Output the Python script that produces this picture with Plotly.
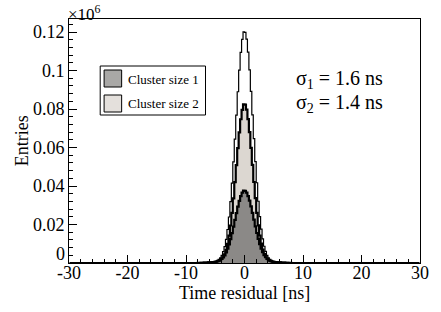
import numpy as np
import plotly.graph_objects as go

# ---- data (entries per 0.25 ns bin, in units of 1e6) ----
bin_width = 0.25
x_min, x_max = -30.0, 30.0
core_first_center = -7.875   # first bin center of the listed values

cluster1 = [0.0001, 0.0001, 0.0001, 0.0001, 0.0002, 0.0002, 0.0002, 0.0003, 0.0003, 0.0004, 0.0004, 0.0005,
            0.0006, 0.0008, 0.0011, 0.0015, 0.0021, 0.0029, 0.0040, 0.0055, 0.0074, 0.0097, 0.0124, 0.0155,
            0.0189, 0.0224, 0.0259, 0.0293, 0.0323, 0.0348, 0.0366, 0.0376,
            0.0375, 0.0366, 0.0348, 0.0324, 0.0294, 0.0260, 0.0225, 0.0190, 0.0156, 0.0125, 0.0098, 0.0075,
            0.0056, 0.0041, 0.0030, 0.0021, 0.0015, 0.0011, 0.0008, 0.0006, 0.0005, 0.0004, 0.0004, 0.0003,
            0.0003, 0.0002, 0.0002, 0.0002, 0.0001, 0.0001, 0.0001, 0.0001]

cluster2 = [0.0000, 0.0000, 0.0001, 0.0001, 0.0001, 0.0001, 0.0001, 0.0002, 0.0002, 0.0002, 0.0003, 0.0003,
            0.0004, 0.0006, 0.0008, 0.0012, 0.0019, 0.0030, 0.0045, 0.0068, 0.0100, 0.0142, 0.0195, 0.0260,
            0.0336, 0.0420, 0.0509, 0.0597, 0.0679, 0.0747, 0.0796, 0.0825,
            0.0823, 0.0797, 0.0748, 0.0680, 0.0598, 0.0510, 0.0421, 0.0337, 0.0261, 0.0196, 0.0143, 0.0101,
            0.0069, 0.0046, 0.0030, 0.0019, 0.0012, 0.0008, 0.0006, 0.0004, 0.0003, 0.0003, 0.0002, 0.0002,
            0.0002, 0.0001, 0.0001, 0.0001, 0.0001, 0.0001, 0.0000, 0.0000]

total = [0.0001, 0.0001, 0.0002, 0.0002, 0.0003, 0.0003, 0.0003, 0.0005, 0.0005, 0.0006, 0.0007, 0.0008,
         0.0010, 0.0014, 0.0019, 0.0027, 0.0040, 0.0059, 0.0085, 0.0123, 0.0174, 0.0239, 0.0319, 0.0415,
         0.0525, 0.0644, 0.0768, 0.0890, 0.1002, 0.1095, 0.1162, 0.1201,
         0.1198, 0.1163, 0.1096, 0.1004, 0.0892, 0.0770, 0.0646, 0.0527, 0.0417, 0.0321, 0.0241, 0.0176,
         0.0125, 0.0087, 0.0060, 0.0040, 0.0027, 0.0019, 0.0014, 0.0010, 0.0008, 0.0007, 0.0006, 0.0005,
         0.0005, 0.0003, 0.0003, 0.0003, 0.0002, 0.0002, 0.0001, 0.0001]

legend_labels = ["Cluster size 1", "Cluster size 2"]
sigma_texts = ["σ<sub>1</sub> = 1.6 ns", "σ<sub>2</sub> = 1.4 ns"]
y_ticks = [0, 0.02, 0.04, 0.06, 0.08, 0.1, 0.12]
y_ticktext = ["0", "0.02", "0.04", "0.06", "0.08", "0.1", "0.12"]
x_ticks = [-30, -20, -10, 0, 10, 20, 30]
x_ticktext = ["-30", "-20", "-10", "0", "10", "20", "30"]

# ---- build full histogram grid ----
centers = np.arange(x_min + bin_width / 2, x_max, bin_width)
i0 = int(round((core_first_center - centers[0]) / bin_width))


def full(values):
    arr = np.zeros(len(centers))
    arr[i0:i0 + len(values)] = values
    return arr


FONT = "Liberation Serif"
DARK = "#8b8987"
LIGHT = "#dcd7d1"

fig = go.Figure()
fig.add_trace(go.Scatter(x=centers, y=full(total), mode="lines", line_shape="hvh",
                         line=dict(color="black", width=1.2), showlegend=False, hoverinfo="skip"))
fig.add_trace(go.Scatter(x=centers, y=full(cluster2), mode="lines", line_shape="hvh", fill="tozeroy",
                         fillcolor=LIGHT, line=dict(color="black", width=2.2), showlegend=False,
                         hoverinfo="skip"))
fig.add_trace(go.Scatter(x=centers, y=full(cluster1), mode="lines", line_shape="hvh", fill="tozeroy",
                         fillcolor=DARK, line=dict(color="black", width=2.2), showlegend=False,
                         hoverinfo="skip"))

axis_common = dict(showline=True, linecolor="black", linewidth=1, mirror=True, ticks="inside",
                   tickcolor="black", tickwidth=1, ticklen=8, showgrid=False, zeroline=False,
                   tickfont=dict(family=FONT, size=18, color="black"))

fig.update_xaxes(range=[x_min, x_max], tickvals=x_ticks, ticktext=x_ticktext, ticklabelstandoff=-7,
                 minor=dict(dtick=2, ticks="inside", ticklen=4, tickcolor="black", tickwidth=1),
                 **axis_common)
# the "0" label of the y axis is drawn as an annotation, raised like in the reference
fig.update_yaxes(range=[0, 0.1268], tickvals=y_ticks, ticktext=[""] + y_ticktext[1:],
                 minor=dict(dtick=0.004, ticks="inside", ticklen=4, tickcolor="black", tickwidth=1),
                 **axis_common)

# pixel -> paper helpers for the 360x244 plot area (left 69, top 19)
def px(x):
    return (x - 69) / 360.0


def py(y):
    return (263 - y) / 244.0


shapes = [
    dict(type="rect", xref="paper", yref="paper", x0=px(101), x1=px(209), y0=py(115), y1=py(66),
         line=dict(color="black", width=1), fillcolor="white", layer="above"),
    dict(type="rect", xref="paper", yref="paper", x0=px(105), x1=px(123), y0=py(87), y1=py(70),
         line=dict(color="black", width=1), fillcolor="#a9a8a6", layer="above"),
    dict(type="rect", xref="paper", yref="paper", x0=px(105), x1=px(123), y0=py(112), y1=py(95),
         line=dict(color="black", width=1), fillcolor="#e4e0dc", layer="above"),
]

annotations = [
    dict(text=legend_labels[0], xref="paper", yref="paper", x=px(127), y=py(79), xanchor="left",
         yanchor="middle", showarrow=False, font=dict(family=FONT, size=13, color="black")),
    dict(text=legend_labels[1], xref="paper", yref="paper", x=px(127), y=py(103.5), xanchor="left",
         yanchor="middle", showarrow=False, font=dict(family=FONT, size=13, color="black")),
    dict(text=sigma_texts[0], xref="paper", yref="paper", x=px(300), y=py(79), xanchor="left",
         yanchor="middle", showarrow=False, font=dict(family=FONT, size=20, color="black")),
    dict(text=sigma_texts[1], xref="paper", yref="paper", x=px(300), y=py(103), xanchor="left",
         yanchor="middle", showarrow=False, font=dict(family=FONT, size=20, color="black")),
    dict(text="×10<sup>6</sup>", xref="paper", yref="paper", x=px(66), y=py(0), xanchor="left",
         yanchor="top", showarrow=False, font=dict(family=FONT, size=17, color="black")),
    dict(text=y_ticktext[0], xref="paper", yref="paper", x=px(67), y=py(254), xanchor="right",
         yanchor="middle", showarrow=False, font=dict(family=FONT, size=18, color="black")),
    dict(text="Time residual [ns]", xref="paper", yref="paper", x=0.5, y=py(293), xanchor="center",
         yanchor="middle", showarrow=False, font=dict(family=FONT, size=18, color="black")),
    dict(text="Entries", xref="paper", yref="paper", x=px(21), y=py(141), xanchor="center",
         yanchor="middle", textangle=-90, showarrow=False, font=dict(family=FONT, size=18, color="black")),
]

fig.update_layout(width=441, height=312, autosize=False,
                  margin=dict(l=69, r=12, t=19, b=49),
                  paper_bgcolor="white", plot_bgcolor="white",
                  shapes=shapes, annotations=annotations, showlegend=False)

fig.write_html("out.html", config={"displayModeBar": False},
               post_script="document.body.style.margin='0';document.body.style.overflow='hidden';")
